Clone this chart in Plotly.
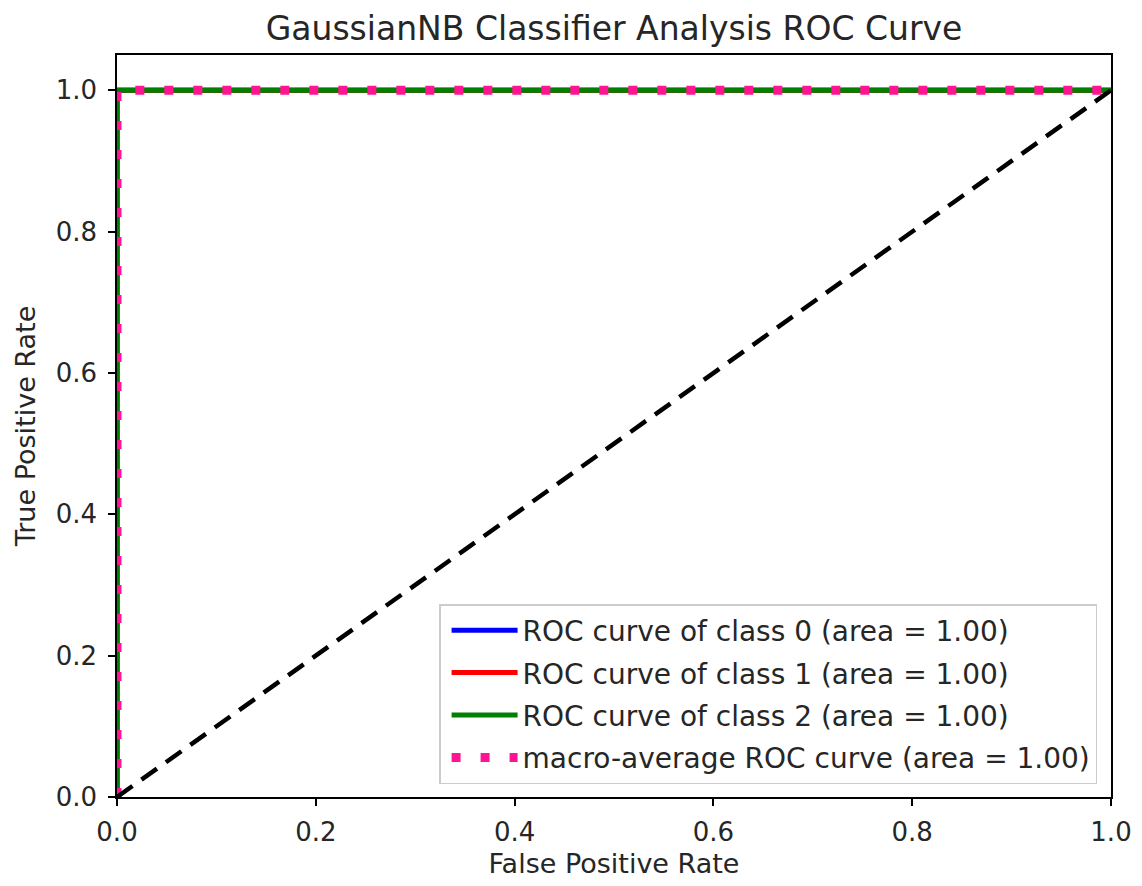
import plotly.graph_objects as go

# Data
class_labels = ["0", "1", "2"]
class_auc = [1.00, 1.00, 1.00]
class_fpr = [[0.0, 0.0, 1.0], [0.0, 0.0, 1.0], [0.0, 0.0, 1.0]]
class_tpr = [[0.0, 1.0, 1.0], [0.0, 1.0, 1.0], [0.0, 1.0, 1.0]]
class_colors = ["blue", "red", "green"]

macro_fpr = [0.0, 0.0, 1.0]
macro_tpr = [0.0, 1.0, 1.0]
macro_auc = 1.00

chance_x = [0.0, 1.0]
chance_y = [0.0, 1.0]

x_ticks = [0.0, 0.2, 0.4, 0.6, 0.8, 1.0]
y_ticks = [0.0, 0.2, 0.4, 0.6, 0.8, 1.0]

FONT = "DejaVu Sans, sans-serif"
TXT = "#262626"

fig = go.Figure()
for i, lab in enumerate(class_labels):
    fig.add_trace(go.Scatter(
        x=class_fpr[i], y=class_tpr[i], mode="lines",
        line=dict(color=class_colors[i], width=5),
        name=f"ROC curve of class {lab} (area = {class_auc[i]:.2f})",
        legendgroup=f"g{i}",
    ))
fig.add_trace(go.Scatter(
    x=macro_fpr, y=macro_tpr, mode="lines",
    line=dict(color="deeppink", width=9, dash="9px,20px"),
    name=f"macro-average ROC curve (area = {macro_auc:.2f})",
    legendgroup="gm",
))
fig.add_trace(go.Scatter(
    x=chance_x, y=chance_y, mode="lines",
    line=dict(color="black", width=4.5, dash="19px,11px"),
    showlegend=False,
))

axis_common = dict(
    showgrid=False, zeroline=False, showline=True, linecolor="black", linewidth=1.5,
    mirror=True, ticks="outside", ticklen=7, tickwidth=1.5, tickcolor="black",
    tickfont=dict(family=FONT, size=26, color=TXT),
)

fig.update_layout(
    width=1142, height=886,
    paper_bgcolor="white", plot_bgcolor="white",
    margin=dict(l=109, r=39, t=47, b=97),
    title=dict(text="GaussianNB Classifier Analysis ROC Curve",
               font=dict(family=FONT, size=33, color=TXT),
               x=606 / 1142, xanchor="center", y=1 - 20 / 886, yanchor="middle"),
    xaxis=dict(range=[0.0, 1.0], tickvals=x_ticks, ticktext=[f"{v:.1f}" for v in x_ticks],
               ticklabelstandoff=4,
               title=dict(text="False Positive Rate", font=dict(family=FONT, size=27, color=TXT), standoff=8),
               **axis_common),
    yaxis=dict(range=[0.0, 1.05], tickvals=y_ticks, ticktext=[f"{v:.1f}" for v in y_ticks],
               ticklabelstandoff=6,
               title=dict(text="True Positive Rate", font=dict(family=FONT, size=27, color=TXT), standoff=12),
               **axis_common),
    legend=dict(x=0.986, y=0.0175, xanchor="right", yanchor="bottom",
                bgcolor="rgba(255,255,255,0.85)", bordercolor="#cccccc", borderwidth=1.5,
                font=dict(family=FONT, size=28, color=TXT),
                tracegroupgap=3, itemwidth=66, indentation=6),
    showlegend=True,
)

fig.write_html("out.html")
